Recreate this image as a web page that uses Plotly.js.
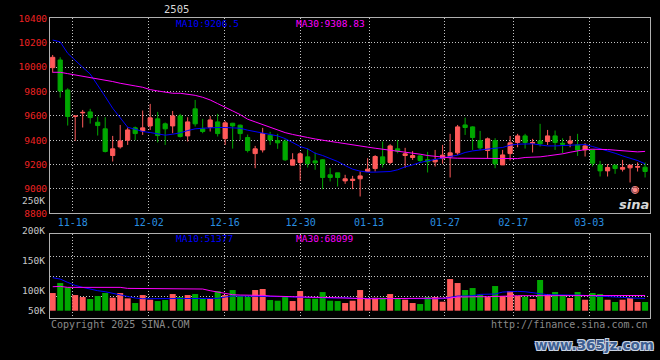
<!DOCTYPE html>
<html>
<head>
<meta charset="utf-8">
<script src="https://cdn.plot.ly/plotly-3.0.1.min.js"></script>
<style>html,body{margin:0;padding:0;background:#000;}#chart{width:660px;height:360px;}</style>
</head>
<body>
<div id="chart"></div>
<script>
const dates = ['11-13','11-14','11-15','11-18','11-19','11-20','11-21','11-22','11-25','11-26',
'11-27','11-28','11-29','12-02','12-03','12-04','12-05','12-06','12-09','12-10',
'12-11','12-12','12-13','12-16','12-17','12-18','12-19','12-20','12-23','12-24',
'12-25','12-26','12-27','12-30','12-31','01-02','01-03','01-06','01-07','01-08',
'01-09','01-10','01-13','01-14','01-15','01-16','01-17','01-20','01-21','01-22',
'01-23','01-24','01-27','02-05','02-06','02-07','02-10','02-11','02-12','02-13',
'02-14','02-17','02-18','02-19','02-20','02-21','02-24','02-25','02-26','02-27',
'02-28','03-03','03-04','03-05','03-06','03-07','03-10','03-11','03-12','03-13'];

const open = [9995,10058,9812,9594,9624,9632,9547,9493,9274,9345,
9400,9501,9476,9517,9575,9534,9517,9599,9435,9657,
9493,9506,9550,9413,9539,9523,9422,9290,9320,9441,
9397,9391,9195,9217,9263,9230,9239,9116,9132,9066,
9069,9083,9143,9167,9263,9217,9329,9274,9258,9271,
9239,9222,9249,9263,9296,9525,9509,9397,9315,9397,
9197,9290,9381,9435,9375,9394,9389,9435,9375,9375,
9361,9320,9320,9197,9148,9195,9162,9173,9178,9178];
const high = [10099,10080,9826,9598,9648,9657,9594,9588,9435,9525,
9504,9512,9643,9698,9632,9545,9640,9616,9588,9730,
9575,9599,9616,9558,9542,9528,9446,9353,9501,9468,
9452,9408,9293,9301,9331,9299,9244,9173,9132,9116,
9107,9143,9252,9277,9389,9367,9402,9337,9310,9277,
9304,9320,9361,9452,9525,9585,9514,9476,9422,9416,
9320,9435,9452,9452,9411,9534,9484,9479,9416,9435,
9452,9375,9326,9230,9203,9197,9238,9197,9217,9217];
const low = [9954,9749,9520,9394,9504,9536,9438,9299,9225,9331,
9361,9400,9443,9484,9381,9361,9457,9422,9389,9512,
9457,9471,9430,9361,9331,9402,9299,9170,9299,9361,
9329,9230,9195,9069,9176,9157,8998,9061,9020,9042,
8998,8938,9140,9143,9176,9203,9293,9173,9238,9217,
9135,9184,9206,9094,9280,9443,9320,9320,9252,9170,
9197,9233,9342,9331,9299,9348,9361,9320,9293,9342,
9271,9266,9184,9102,9102,9124,9143,9053,9143,9094];
const close = [10080,9804,9594,9598,9628,9585,9520,9307,9329,9394,
9484,9454,9501,9583,9438,9493,9599,9430,9550,9534,
9471,9566,9454,9542,9517,9454,9315,9329,9454,9402,
9378,9239,9239,9288,9208,9214,9094,9094,9094,9083,
9080,9107,9162,9266,9208,9353,9310,9288,9274,9233,
9222,9239,9277,9296,9509,9504,9422,9337,9411,9206,
9279,9378,9435,9381,9381,9370,9435,9381,9367,9394,
9320,9353,9211,9148,9176,9167,9176,9195,9184,9143];

const ma10 = [10222,10206,10113,10053,9998,9943,9853,9758,9662,9588,
9506,9490,9471,9463,9449,9441,9449,9460,9479,9493,
9498,9504,9504,9504,9504,9498,9482,9471,9463,9452,
9435,9413,9381,9348,9329,9293,9274,9249,9225,9192,
9162,9146,9138,9138,9138,9143,9157,9181,9197,9217,
9230,9244,9258,9266,9277,9299,9312,9320,9331,9334,
9340,9359,9367,9367,9370,9361,9353,9353,9356,9364,
9367,9364,9348,9331,9312,9293,9271,9252,9233,9206];
const ma30 = [9957,9957,9946,9935,9927,9919,9908,9894,9881,9867,
9853,9845,9834,9815,9804,9793,9785,9785,9779,9768,
9752,9730,9700,9667,9640,9610,9572,9550,9528,9505,
9480,9462,9447,9432,9422,9410,9398,9390,9381,9373,
9362,9354,9343,9334,9326,9320,9313,9304,9293,9285,
9274,9266,9258,9255,9252,9252,9252,9252,9252,9247,
9249,9249,9249,9258,9260,9263,9271,9277,9288,9301,
9315,9323,9326,9326,9323,9318,9312,9310,9304,9308];

const volume = [73700,115400,97300,65300,57000,48700,61200,73700,54200,73700,
51400,32000,65300,45900,40300,44500,69500,57000,65300,69500,
51400,50000,82000,65300,86200,61200,58400,86200,90400,44500,
41700,61200,40300,82000,50000,50000,77800,41700,40300,32000,
41700,86200,48700,54200,54200,69500,48700,45900,32000,27800,
57000,57000,37500,132000,115400,86200,94500,66700,57000,102900,
61200,82000,61200,58400,48700,127900,69500,77800,65300,52800,
77800,45900,73700,69500,45900,36100,45900,52800,36100,36100];
const vma10 = [137600,132000,118000,105600,97300,89000,83400,79200,72300,66700,
61200,52800,50000,50000,50000,50000,50000,50000,50000,50000,
50000,50000,51400,57000,61200,61200,61200,59800,61200,59800,
59800,58400,57000,57000,54200,54200,54200,52800,54200,54200,
51400,51400,51400,50000,50000,50000,50000,50000,50000,50000,
50000,50000,50000,55600,61200,61200,62600,68100,68100,69500,
77800,80600,80600,79200,76500,70900,66700,65300,65300,65300,
65300,63900,62600,61200,61200,57000,55600,53000,52000,51400];
const vma30 = [100000,101500,97300,97300,97300,97300,97300,97300,97300,97300,
93100,93100,93100,93100,93100,93100,93100,93100,93100,93100,
90400,83400,77800,70900,66700,65300,65300,65300,63900,61200,
59800,59800,58400,58400,57000,55600,55600,54200,54200,54200,
52800,51400,50000,50000,50000,50000,50000,50000,50000,50000,
50000,50000,50000,52800,57000,58400,58400,58400,58400,58400,
58400,61200,62600,62600,62600,62600,62600,62600,62600,62600,
62600,62600,62600,62600,62600,62600,62600,63000,63200,63500];

const tickDates = ['11-18','12-02','12-16','12-30','01-13','01-27','02-17','03-03'];
const priceTicks = [8800,9000,9200,9400,9600,9800,10000,10200,10400];
const volTickText = ['200K','150K','100K','50K'];

// ---- geometry / style ----
const W = 660, H = 360;
const X0 = -0.36, X1 = 79.59;            // index range of the panels
const GRID_STEP = (600 / 79) / 7.498;    // Sina spaces its date grid slightly wider than its candles
const px2y = p => 1 - p / H;
const xIdx = dates.map((d, i) => i);
const gridVals = tickDates.map(d => X0 + dates.indexOf(d) * GRID_STEP);
const upColor = '#ff5a5a', downColor = '#00a800';
const volColors = close.map((c, i) => c > open[i] ? upColor : downColor);
const mono = 'DejaVu Sans Mono, monospace';
const gridC = '#c4c4c4', lineC = '#b0b0b0', gridDash = '1px,2px';

const traces = [
  {type:'candlestick', x:xIdx, open:open, high:high, low:low, close:close, text:dates,
   xaxis:'x', yaxis:'y', whiskerwidth:0, hoverinfo:'x+y',
   increasing:{line:{color:upColor, width:1}, fillcolor:upColor},
   decreasing:{line:{color:downColor, width:1}, fillcolor:downColor}},
  {type:'scatter', mode:'lines', x:xIdx, y:ma10, xaxis:'x', yaxis:'y', line:{color:'#0000ff', width:1}, hoverinfo:'skip'},
  {type:'scatter', mode:'lines', x:xIdx, y:ma30, xaxis:'x', yaxis:'y', line:{color:'#ff00ff', width:1}, hoverinfo:'skip'},
  {type:'bar', x:xIdx, y:volume, xaxis:'x2', yaxis:'y2', marker:{color:volColors, line:{width:0}}, width:0.8, hoverinfo:'skip'},
  {type:'scatter', mode:'lines', x:xIdx, y:vma10, xaxis:'x2', yaxis:'y2', line:{color:'#0000ff', width:1}, hoverinfo:'skip'},
  {type:'scatter', mode:'lines', x:xIdx, y:vma30, xaxis:'x2', yaxis:'y2', line:{color:'#ff00ff', width:1}, hoverinfo:'skip'}
];

function ann(text, x, y, color, size, xanchor, extra) {
  return Object.assign({text:text, x:x / W, y:px2y(y), xref:'paper', yref:'paper', showarrow:false,
    xanchor:xanchor || 'left', yanchor:'middle', font:{family:mono, size:size, color:color}}, extra || {});
}

const annotations = [
  ann('2505', 176, 9, '#d8d8d8', 10.5, 'center'),
  ann('MA10:9206.5', 174, 23.5, '#0000ff', 9.5),
  ann('MA30:9308.83', 294, 23.5, '#ff00ff', 9.5),
  ann('250K', 47, 200, '#c8c8c8', 9.5, 'right'),
  ann('MA10:51377', 174, 238.5, '#0000ff', 9.5),
  ann('MA30:68099', 294, 238.5, '#ff00ff', 9.5),
  ann(volTickText[0], 47, 230.7, '#c8c8c8', 9.5, 'right'),
  ann(volTickText[1], 47, 260.7, '#c8c8c8', 9.5, 'right'),
  ann(volTickText[2], 47, 290, '#c8c8c8', 9.5, 'right'),
  ann(volTickText[3], 47, 310.5, '#c8c8c8', 9.5, 'right'),
  ann('Copyright 2025 SINA.COM', 49, 324, '#8a8a8a', 10),
  ann('http://finance.sina.com.cn', 650, 324, '#8a8a8a', 10, 'right'),
  ann('<b>www.365jz.com</b>', 594, 345, '#3d5f92', 13.5, 'center',
      {font:{family:'DejaVu Sans, sans-serif', size:13.5, color:'#3d5f92',
       shadow:'1px 1px 0 #c8d2e2, -1px -1px 0 #c8d2e2, 1px -1px 0 #c8d2e2, -1px 1px 0 #c8d2e2'}}),
  ann('◉', 635, 188, '#ff8a8a', 13, 'center'),
  ann('<b><i>sina</i></b>', 634, 204, '#d8d8d8', 13, 'center', {font:{family:'DejaVu Sans, sans-serif', size:13, color:'#d8d8d8'}})
];

const xCommon = {range:[X0, X1], tickvals:gridVals, ticktext:tickDates, showgrid:true, gridcolor:gridC,
  griddash:gridDash, gridwidth:1, zeroline:false, showline:true, mirror:true, linecolor:lineC, linewidth:1,
  ticks:'', fixedrange:true, domain:[50 / W, 649.5 / W]};

const layout = {
  width:W, height:H, margin:{l:0, r:0, t:0, b:0}, paper_bgcolor:'#000', plot_bgcolor:'#000',
  showlegend:false, boxgap:0.2, bargap:0.2, hovermode:false,
  xaxis:Object.assign({}, xCommon, {anchor:'y', rangeslider:{visible:false},
    tickfont:{family:mono, size:10, color:'#2a8fe0'}}),
  yaxis:{domain:[px2y(213.3), px2y(18.3)], range:[8800, 10400], tickvals:priceTicks,
    ticktext:priceTicks.map(String), anchor:'x',
    showgrid:true, gridcolor:gridC, griddash:gridDash, gridwidth:1, zeroline:false, showline:true, mirror:true,
    linecolor:lineC, linewidth:1, ticks:'', tickfont:{family:mono, size:9.5, color:'#ee2222'}, fixedrange:true},
  xaxis2:Object.assign({}, xCommon, {anchor:'y2', showticklabels:false}),
  yaxis2:{domain:[px2y(318), px2y(234)], range:[-30400, 319800], tickvals:[61300, 144700, 228000], anchor:'x2',
    showticklabels:false, showgrid:true, gridcolor:gridC, griddash:gridDash, gridwidth:1, zeroline:false,
    showline:true, mirror:true, linecolor:lineC, linewidth:1, ticks:'', fixedrange:true},
  annotations:annotations
};

Plotly.newPlot('chart', traces, layout, {displayModeBar:false, staticPlot:true});
</script>
</body>
</html>
